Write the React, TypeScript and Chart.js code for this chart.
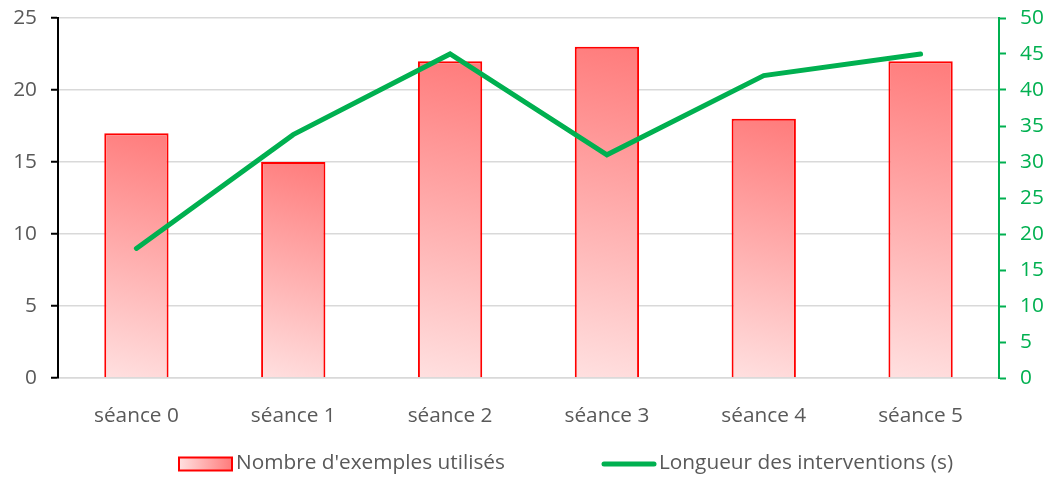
import React, { useEffect, useRef } from "react";
import { Chart, registerables } from "chart.js";

Chart.register(...registerables);

const categories = ["séance 0", "séance 1", "séance 2", "séance 3", "séance 4", "séance 5"];
const exemples = [17, 15, 22, 23, 18, 22];
const longueur = [18, 33.8, 45, 31, 42, 45];
const leftTicks = { min: 0, max: 25, step: 5 };
const rightTicks = { min: 0, max: 50, step: 5 };
const legendLabels = ["Nombre d'exemples utilisés", "Longueur des interventions (s)"];

const BAR_PCT = 0.41;
const FONT = "'Open Sans', 'Noto Sans', sans-serif";
const FS = 20.8;
const GREY_TEXT = "#595959";
const GREEN = "#00B050";
const RED = "#FF0000";
const LIGHT = "#FFE0E0";
const DARK = "#FF7B7B";

const legendPlugin = {
  id: "customLegend",
  afterDraw(chart: any) {
    const ctx = chart.ctx as CanvasRenderingContext2D;
    const y = chart.height - 16;
    ctx.save();
    ctx.font = `${FS}px ${FONT}`;
    ctx.textBaseline = "middle";
    ctx.fillStyle = GREY_TEXT;
    const bx = 179, bw = 53, bh = 13;
    const g = ctx.createLinearGradient(bx, 0, bx + bw, 0);
    g.addColorStop(0, LIGHT);
    g.addColorStop(1, DARK);
    ctx.fillStyle = g;
    ctx.fillRect(bx, y - bh / 2, bw, bh);
    ctx.strokeStyle = RED;
    ctx.lineWidth = 2;
    ctx.strokeRect(bx, y - bh / 2, bw, bh);
    ctx.fillStyle = GREY_TEXT;
    ctx.fillText(legendLabels[0], bx + bw + 4, y - 1);
    const lx = 604, lw = 50;
    ctx.strokeStyle = GREEN;
    ctx.lineWidth = 5;
    ctx.lineCap = "round";
    ctx.beginPath();
    ctx.moveTo(lx, y);
    ctx.lineTo(lx + lw, y);
    ctx.stroke();
    ctx.fillText(legendLabels[1], lx + lw + 5, y - 1);
    ctx.restore();
  },
};

export default function App() {
  const ref = useRef<HTMLCanvasElement | null>(null);

  useEffect(() => {
    document.body.style.margin = "0";
    const canvas = ref.current;
    if (!canvas) return;

    const barBg = (c: any) => {
      const chart = c.chart;
      if (c.type !== "data" || !chart.chartArea) return DARK;
      const xs = chart.scales.x;
      const ys = chart.scales.y;
      const cx = xs.getPixelForValue(c.dataIndex);
      const w = (xs.width / categories.length) * BAR_PCT;
      const top = ys.getPixelForValue(c.raw);
      const base = ys.getPixelForValue(0);
      const g = chart.ctx.createLinearGradient(cx - w / 2, base, cx + w / 2, top);
      g.addColorStop(0, LIGHT);
      g.addColorStop(1, DARK);
      return g;
    };

    const chart = new Chart(canvas, {
      type: "bar",
      data: {
        labels: categories,
        datasets: [
          {
            type: "line",
            label: legendLabels[1],
            data: longueur,
            yAxisID: "y1",
            borderColor: GREEN,
            backgroundColor: GREEN,
            borderWidth: 5,
            pointRadius: 0,
            tension: 0,
            borderCapStyle: "round",
            borderJoinStyle: "miter",
            order: 0,
          } as any,
          {
            type: "bar",
            label: legendLabels[0],
            data: exemples,
            yAxisID: "y",
            backgroundColor: barBg,
            borderColor: RED,
            borderWidth: 2,
            barPercentage: BAR_PCT,
            categoryPercentage: 1,
            order: 1,
          } as any,
        ],
      },
      options: {
        responsive: true,
        maintainAspectRatio: false,
        animation: false,
        layout: { padding: { top: 18, left: 0, right: 0, bottom: 0 } },
        plugins: {
          legend: { display: false },
          tooltip: { enabled: false },
        },
        scales: {
          x: {
            offset: true,
            grid: { display: false },
            border: { display: true, color: "#D9D9D9", width: 1.5 },
            ticks: {
              color: GREY_TEXT,
              font: { family: FONT, size: FS },
              padding: 18,
              maxRotation: 0,
            },
            afterFit: (s: any) => {
              s.height = 102;
            },
          },
          y: {
            position: "left",
            min: leftTicks.min,
            max: leftTicks.max,
            ticks: {
              stepSize: leftTicks.step,
              color: GREY_TEXT,
              font: { family: FONT, size: FS },
              padding: 14,
            },
            grid: {
              color: "#D9D9D9",
              lineWidth: 1.5,
              tickColor: "#000000",
              tickWidth: 2,
              tickLength: 7,
            },
            border: { display: true, color: "#000000", width: 2 },
            afterFit: (s: any) => {
              s.width = 58;
              s.paddingTop = 0;
              s.paddingBottom = 0;
            },
          },
          y1: {
            position: "right",
            min: rightTicks.min,
            max: rightTicks.max,
            ticks: {
              stepSize: rightTicks.step,
              color: GREEN,
              font: { family: FONT, size: FS },
              padding: 14,
            },
            grid: {
              drawOnChartArea: false,
              tickColor: GREEN,
              tickWidth: 2,
              tickLength: 7,
            },
            border: { display: true, color: GREEN, width: 2 },
            afterFit: (s: any) => {
              s.width = 55;
              s.paddingTop = 0;
              s.paddingBottom = 0;
            },
          },
        },
      },
      plugins: [legendPlugin],
    });

    return () => chart.destroy();
  }, []);

  return (
    <div style={{ position: "absolute", left: 0, top: 0, width: 1054, height: 480 }}>
      <canvas ref={ref} />
    </div>
  );
}
